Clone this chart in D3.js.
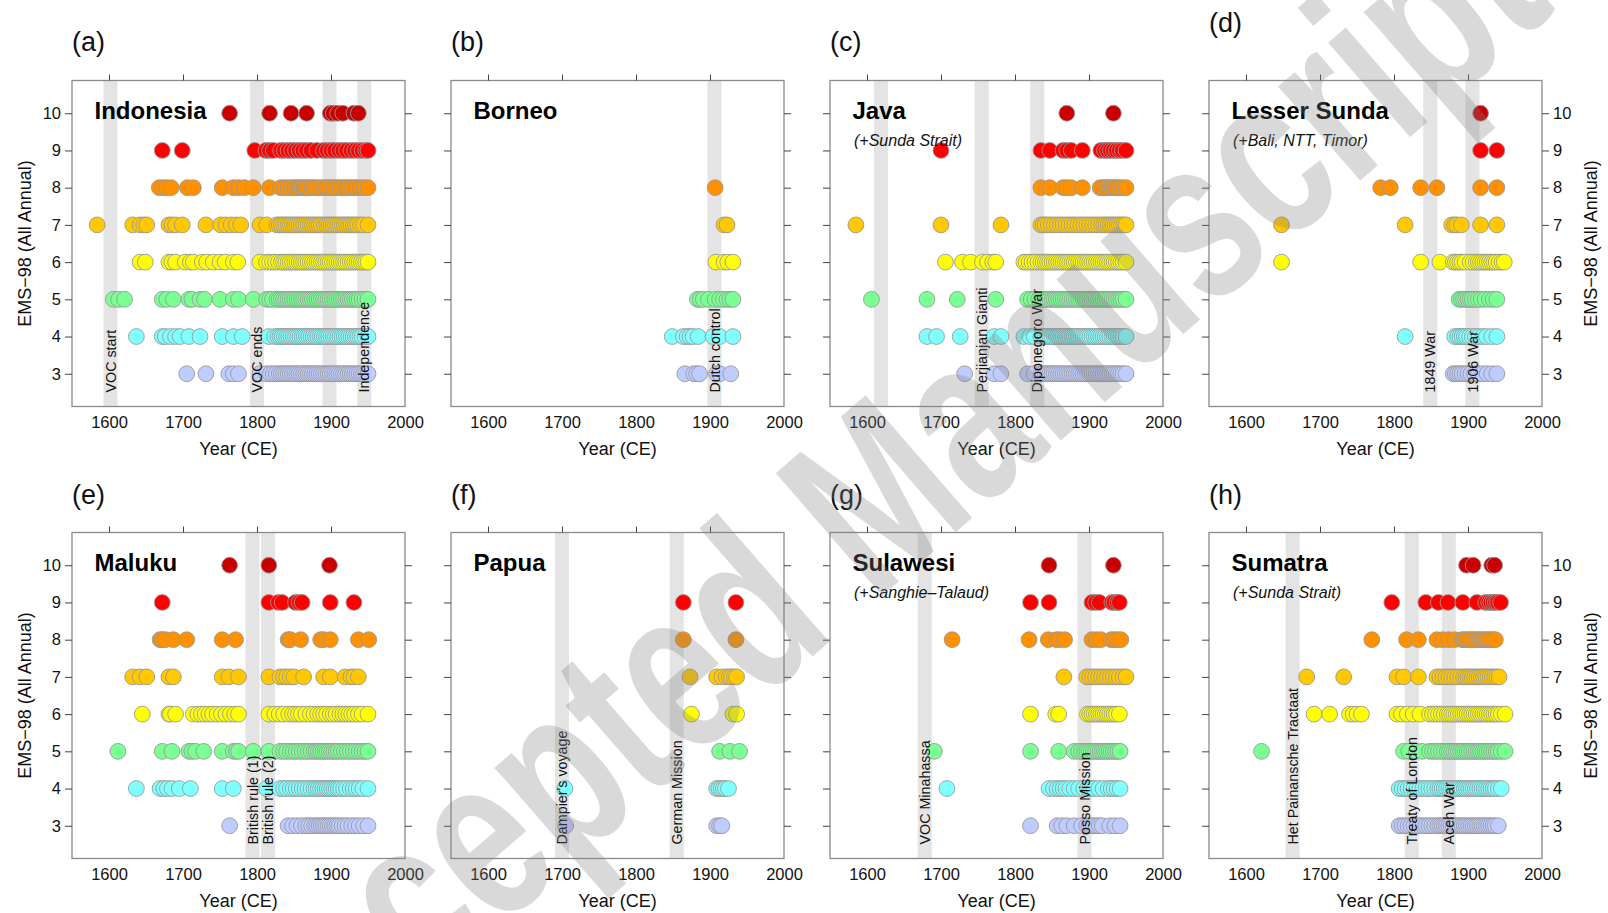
<!DOCTYPE html>
<html>
<head>
<meta charset="utf-8">
<script src="https://cdn.jsdelivr.net/npm/d3@7"></script>
<style>
  body { margin: 0; background: #fff; }
  text { font-family: "Liberation Sans", Arial, Helvetica, sans-serif; }
</style>
</head>
<body>
<svg id="chart" width="1608" height="913"></svg>
<script>
// EMS-98 intensity levels and their colours
const levels = [3, 4, 5, 6, 7, 8, 9, 10];
const levelColors = ['#bfccff', '#80ffff', '#7aff93', '#ffff00', '#ffc800', '#ff9100', '#ff0000', '#c80000'];
const yearTicks = [1600, 1700, 1800, 1900, 2000];

const panelLetters = ['(a)', '(b)', '(c)', '(d)', '(e)', '(f)', '(g)', '(h)'];
const regionNames = ['Indonesia', 'Borneo', 'Java', 'Lesser Sunda', 'Maluku', 'Papua', 'Sulawesi', 'Sumatra'];
const regionNotes = ['', '', '(+Sunda Strait)', '(+Bali, NTT, Timor)', '', '', '(+Sanghie\u2013Talaud)', '(+Sunda Strait)'];

// years with reports at each intensity, per region: [level, years]
const indonesia = [
  [3, [1705, 1731, 1762, 1768, 1775, 1804, 1813, 1818, 1822, 1826, 1830, 1833, 1836, 1839, 1842, 1845, 1848, 1851, 1854, 1857, 1860, 1863, 1866, 1869, 1872, 1875, 1878, 1881, 1884, 1887, 1890, 1893, 1896, 1899, 1902, 1905, 1908, 1911, 1914, 1917, 1920, 1923, 1926, 1929, 1932, 1935, 1938, 1941, 1944, 1947, 1950]],
  [4, [1637, 1672, 1676, 1683, 1690, 1696, 1708, 1723, 1753, 1768, 1780, 1816, 1824, 1828, 1831, 1834, 1837, 1840, 1843, 1846, 1849, 1852, 1855, 1858, 1861, 1864, 1867, 1870, 1873, 1876, 1879, 1882, 1885, 1888, 1891, 1894, 1897, 1900, 1903, 1906, 1909, 1912, 1915, 1918, 1921, 1924, 1927, 1930, 1933, 1936, 1939, 1942, 1946, 1950]],
  [5, [1606, 1613, 1621, 1672, 1678, 1687, 1708, 1712, 1723, 1729, 1750, 1768, 1775, 1795, 1813, 1817, 1821, 1827, 1830, 1833, 1836, 1839, 1842, 1845, 1848, 1851, 1854, 1857, 1860, 1863, 1866, 1869, 1872, 1875, 1878, 1881, 1884, 1887, 1890, 1893, 1896, 1899, 1902, 1905, 1908, 1911, 1914, 1917, 1920, 1923, 1926, 1929, 1932, 1935, 1938, 1942, 1946, 1950]],
  [6, [1642, 1649, 1681, 1685, 1690, 1703, 1710, 1714, 1726, 1732, 1741, 1750, 1757, 1768, 1774, 1804, 1813, 1817, 1821, 1825, 1829, 1833, 1836, 1839, 1842, 1845, 1848, 1851, 1854, 1857, 1860, 1863, 1866, 1869, 1872, 1875, 1878, 1881, 1884, 1887, 1890, 1893, 1896, 1899, 1902, 1905, 1908, 1911, 1914, 1917, 1920, 1923, 1926, 1929, 1932, 1935, 1938, 1941, 1944, 1947, 1950]],
  [7, [1584, 1632, 1642, 1647, 1651, 1681, 1685, 1690, 1699, 1731, 1751, 1758, 1765, 1772, 1778, 1804, 1813, 1827, 1830, 1833, 1836, 1839, 1842, 1845, 1848, 1851, 1854, 1857, 1860, 1863, 1866, 1869, 1872, 1875, 1878, 1881, 1884, 1887, 1891, 1894, 1897, 1900, 1903, 1906, 1909, 1912, 1915, 1918, 1921, 1924, 1927, 1930, 1933, 1936, 1940, 1944, 1950]],
  [8, [1668, 1673, 1678, 1684, 1706, 1714, 1753, 1768, 1775, 1783, 1795, 1817, 1832, 1837, 1842, 1847, 1851, 1855, 1858, 1861, 1864, 1867, 1870, 1874, 1877, 1881, 1886, 1890, 1894, 1897, 1900, 1904, 1908, 1912, 1916, 1920, 1924, 1928, 1932, 1935, 1940, 1945, 1950]],
  [9, [1672, 1699, 1797, 1812, 1817, 1822, 1832, 1837, 1842, 1847, 1852, 1857, 1862, 1867, 1873, 1881, 1890, 1895, 1900, 1905, 1911, 1916, 1921, 1927, 1932, 1937, 1942, 1947, 1950]],
  [10, [1763, 1817, 1846, 1867, 1899, 1903, 1909, 1916, 1931, 1937]]
];
const borneo = [
  [3, [1866, 1878, 1882, 1886, 1909, 1913, 1928]],
  [4, [1849, 1864, 1869, 1873, 1877, 1884, 1904, 1913, 1931]],
  [5, [1883, 1887, 1891, 1898, 1907, 1913, 1918, 1923, 1927, 1931]],
  [6, [1908, 1919, 1924, 1931]],
  [7, [1919, 1923]],
  [8, [1907]]
];
const java = [
  [3, [1732, 1772, 1781, 1817, 1826, 1835, 1838, 1841, 1844, 1847, 1850, 1853, 1856, 1859, 1862, 1865, 1868, 1871, 1874, 1877, 1880, 1883, 1886, 1889, 1892, 1895, 1898, 1901, 1904, 1907, 1910, 1913, 1916, 1919, 1922, 1925, 1928, 1931, 1934, 1937, 1940, 1943, 1946, 1950]],
  [4, [1681, 1694, 1726, 1772, 1781, 1812, 1820, 1826, 1835, 1838, 1841, 1844, 1847, 1850, 1853, 1856, 1859, 1862, 1865, 1868, 1871, 1874, 1877, 1880, 1883, 1886, 1889, 1892, 1895, 1898, 1901, 1904, 1907, 1910, 1913, 1916, 1919, 1922, 1925, 1928, 1931, 1934, 1937, 1940, 1943, 1946, 1950]],
  [5, [1606, 1681, 1722, 1774, 1817, 1822, 1827, 1832, 1835, 1838, 1841, 1844, 1847, 1850, 1853, 1856, 1859, 1862, 1865, 1868, 1871, 1874, 1877, 1880, 1883, 1886, 1889, 1892, 1895, 1898, 1901, 1904, 1907, 1910, 1913, 1916, 1919, 1922, 1925, 1928, 1931, 1934, 1937, 1940, 1943, 1946, 1950]],
  [6, [1706, 1729, 1740, 1756, 1763, 1770, 1774, 1812, 1815, 1819, 1823, 1827, 1831, 1835, 1838, 1841, 1844, 1847, 1850, 1853, 1856, 1859, 1862, 1865, 1868, 1871, 1874, 1877, 1880, 1883, 1886, 1889, 1892, 1895, 1898, 1901, 1904, 1907, 1910, 1913, 1916, 1919, 1922, 1925, 1928, 1931, 1934, 1937, 1940, 1943, 1946, 1950]],
  [7, [1585, 1700, 1781, 1835, 1838, 1841, 1845, 1849, 1853, 1857, 1861, 1865, 1869, 1873, 1877, 1881, 1885, 1889, 1893, 1897, 1901, 1905, 1909, 1913, 1917, 1920, 1923, 1926, 1929, 1932, 1935, 1938, 1941, 1944, 1947, 1950]],
  [8, [1835, 1847, 1865, 1870, 1876, 1891, 1915, 1919, 1922, 1925, 1928, 1931, 1934, 1937, 1941, 1945, 1950]],
  [9, [1700, 1835, 1847, 1865, 1870, 1876, 1891, 1916, 1921, 1925, 1929, 1933, 1937, 1941, 1945, 1950]],
  [10, [1870, 1933]]
];
const lesserSunda = [
  [3, [1880, 1883, 1886, 1889, 1892, 1896, 1900, 1904, 1909, 1914, 1920, 1926, 1932, 1939]],
  [4, [1815, 1882, 1886, 1889, 1892, 1895, 1898, 1902, 1906, 1910, 1915, 1920, 1925, 1932, 1939]],
  [5, [1888, 1891, 1894, 1897, 1900, 1903, 1906, 1910, 1914, 1918, 1923, 1929, 1934, 1939]],
  [6, [1648, 1836, 1862, 1880, 1883, 1886, 1889, 1892, 1896, 1903, 1907, 1911, 1914, 1917, 1920, 1923, 1926, 1929, 1932, 1935, 1938, 1942, 1946, 1949]],
  [7, [1648, 1815, 1878, 1882, 1885, 1891, 1917, 1939]],
  [8, [1782, 1795, 1836, 1858, 1917, 1939]],
  [9, [1917, 1939]],
  [10, [1917]]
];
const maluku = [
  [3, [1763, 1842, 1848, 1854, 1860, 1866, 1870, 1874, 1878, 1881, 1884, 1887, 1890, 1893, 1896, 1899, 1902, 1905, 1908, 1911, 1915, 1919, 1923, 1928, 1933, 1938, 1944, 1950]],
  [4, [1637, 1669, 1674, 1679, 1685, 1695, 1710, 1753, 1768, 1813, 1831, 1836, 1840, 1845, 1849, 1853, 1857, 1861, 1865, 1869, 1873, 1877, 1880, 1883, 1886, 1889, 1892, 1895, 1898, 1901, 1904, 1907, 1910, 1913, 1917, 1921, 1926, 1930, 1934, 1938, 1943, 1950]],
  [5, [1612, 1672, 1685, 1708, 1712, 1717, 1728, 1753, 1768, 1772, 1775, 1795, 1816, 1831, 1836, 1840, 1845, 1849, 1853, 1857, 1861, 1865, 1869, 1873, 1877, 1880, 1883, 1886, 1889, 1892, 1895, 1898, 1901, 1904, 1907, 1910, 1914, 1918, 1922, 1926, 1930, 1934, 1938, 1942, 1946, 1950]],
  [6, [1645, 1681, 1683, 1690, 1714, 1720, 1725, 1730, 1735, 1740, 1746, 1752, 1758, 1764, 1770, 1775, 1816, 1824, 1830, 1836, 1843, 1848, 1852, 1856, 1860, 1866, 1872, 1877, 1882, 1886, 1890, 1894, 1899, 1903, 1907, 1912, 1916, 1920, 1924, 1928, 1932, 1937, 1942, 1950]],
  [7, [1632, 1642, 1651, 1681, 1687, 1753, 1762, 1775, 1816, 1831, 1836, 1840, 1845, 1850, 1863, 1890, 1899, 1919, 1927, 1931, 1937]],
  [8, [1669, 1672, 1676, 1687, 1705, 1753, 1771, 1842, 1845, 1859, 1886, 1890, 1899, 1937, 1951]],
  [9, [1672, 1816, 1829, 1834, 1852, 1857, 1861, 1899, 1931]],
  [10, [1763, 1816, 1898]]
];
const papua = [
  [3, [1705, 1909, 1913, 1916]],
  [4, [1704, 1909, 1912, 1915, 1918, 1921, 1925]],
  [5, [1913, 1927, 1940]],
  [6, [1875, 1931, 1936]],
  [7, [1873, 1909, 1916, 1922, 1926, 1929, 1933, 1936]],
  [8, [1864, 1935]],
  [9, [1864, 1935]]
];
const sulawesi = [
  [3, [1821, 1857, 1863, 1870, 1880, 1890, 1897, 1900, 1903, 1906, 1910, 1914, 1918, 1928, 1935, 1942]],
  [4, [1708, 1846, 1852, 1857, 1861, 1865, 1869, 1874, 1880, 1886, 1893, 1898, 1901, 1904, 1907, 1913, 1919, 1926, 1930, 1934, 1938, 1942]],
  [5, [1691, 1821, 1859, 1880, 1886, 1890, 1894, 1897, 1900, 1903, 1906, 1909, 1912, 1915, 1918, 1921, 1924, 1927, 1930, 1933, 1936, 1939, 1942]],
  [6, [1821, 1855, 1859, 1898, 1901, 1904, 1907, 1910, 1913, 1916, 1919, 1922, 1925, 1928, 1931, 1934, 1937, 1941]],
  [7, [1866, 1897, 1901, 1905, 1909, 1913, 1917, 1921, 1925, 1929, 1933, 1937, 1941, 1946, 1950]],
  [8, [1715, 1819, 1845, 1856, 1860, 1867, 1904, 1910, 1916, 1930, 1934, 1938, 1943]],
  [9, [1821, 1846, 1904, 1909, 1914, 1931, 1934, 1938, 1941]],
  [10, [1846, 1933]]
];
const sumatra = [
  [3, [1807, 1811, 1815, 1819, 1823, 1827, 1831, 1835, 1839, 1843, 1847, 1851, 1855, 1859, 1862, 1865, 1868, 1871, 1874, 1877, 1880, 1883, 1886, 1889, 1892, 1895, 1898, 1901, 1904, 1907, 1910, 1913, 1916, 1919, 1922, 1925, 1928, 1931, 1934, 1937, 1941]],
  [4, [1807, 1811, 1815, 1819, 1823, 1827, 1831, 1835, 1839, 1843, 1847, 1851, 1855, 1859, 1862, 1865, 1868, 1871, 1874, 1877, 1880, 1883, 1886, 1889, 1892, 1895, 1898, 1901, 1904, 1907, 1910, 1913, 1916, 1919, 1922, 1925, 1928, 1931, 1934, 1937, 1941, 1945]],
  [5, [1621, 1813, 1820, 1830, 1838, 1848, 1852, 1856, 1860, 1864, 1868, 1872, 1875, 1878, 1881, 1884, 1887, 1890, 1893, 1896, 1899, 1902, 1905, 1908, 1911, 1914, 1917, 1920, 1923, 1926, 1929, 1932, 1935, 1938, 1941, 1945, 1950]],
  [6, [1692, 1713, 1740, 1745, 1750, 1756, 1804, 1810, 1818, 1826, 1835, 1848, 1852, 1856, 1860, 1864, 1868, 1872, 1875, 1878, 1881, 1884, 1887, 1890, 1893, 1896, 1899, 1902, 1905, 1908, 1911, 1914, 1917, 1920, 1923, 1926, 1929, 1932, 1935, 1938, 1941, 1945, 1950]],
  [7, [1682, 1732, 1804, 1813, 1833, 1858, 1862, 1866, 1870, 1874, 1878, 1882, 1886, 1890, 1894, 1897, 1900, 1903, 1906, 1909, 1912, 1915, 1918, 1921, 1924, 1927, 1930, 1933, 1936, 1939, 1942]],
  [8, [1770, 1817, 1833, 1858, 1866, 1874, 1882, 1892, 1895, 1898, 1901, 1904, 1907, 1910, 1913, 1916, 1919, 1922, 1925, 1928, 1931, 1934, 1937]],
  [9, [1797, 1843, 1860, 1873, 1893, 1912, 1924, 1928, 1931, 1934, 1937, 1940, 1944]],
  [10, [1898, 1907, 1932, 1936]]
];
const regionData = [indonesia, borneo, java, lesserSunda, maluku, papua, sulawesi, sumatra];

// historical events marked as grey bands: [year, label]
const regionEvents = [
  [[1602, 'VOC start'], [1800, 'VOC ends'], [1898, ''], [1945, 'Independence']],
  [[1906, 'Dutch control']],
  [[1619, ''], [1755, 'Perjianjan Gianti'], [1830, 'Diponegoro War']],
  [[1849, '1849 War'], [1906, '1906 War']],
  [[1794, 'British rule (1)'], [1815, 'British rule (2)']],
  [[1700, "Dampier's voyage"], [1855, 'German Mission']],
  [[1678, 'VOC Minahassa'], [1894, 'Posso Mission']],
  [[1663, 'Het Painansche Tractaat'], [1824, 'Treaty of London'], [1874, 'Aceh War']]
];

// layout
const colLeft = [72, 451, 830, 1209];
const rowTop = [80.5, 532.5];
const pw = 333, ph = 326;
const bandHalf = 9.5;

const svg = d3.select('#chart');
svg.append('rect').attr('width', 1608).attr('height', 913).attr('fill', '#fff');

const x = d3.scaleLinear().domain([1550, 2000]).range([0, pw]);
const y = d3.scaleLinear().domain([2.12, 10.88]).range([ph, 0]);
const color = d3.scaleOrdinal().domain(levels).range(levelColors);

regionNames.forEach(function(name, i) {
  const col = i % 4, row = Math.floor(i / 4);
  const g = svg.append('g').attr('transform', 'translate(' + colLeft[col] + ',' + rowTop[row] + ')');

  // panel letter, (d) sits higher than the rest
  g.append('text')
    .attr('x', 0).attr('y', i === 3 ? -48.5 : (row === 0 ? -30 : -28.5))
    .attr('font-size', 27).attr('fill', '#111')
    .text(panelLetters[i]);

  // event bands
  const ev = regionEvents[i];
  g.selectAll('rect.band').data(ev).enter().append('rect')
    .attr('class', 'band')
    .attr('x', function(d) { return x(d[0] - bandHalf); })
    .attr('width', function(d) { return x(d[0] + bandHalf) - x(d[0] - bandHalf); })
    .attr('y', 0).attr('height', ph)
    .attr('fill', '#e4e4e4');

  // points
  const pts = [];
  regionData[i].forEach(function(r) { r[1].forEach(function(yr) { pts.push({ lev: r[0], yr: yr }); }); });
  g.selectAll('circle').data(pts).enter().append('circle')
    .attr('cx', function(d) { return x(d.yr); })
    .attr('cy', function(d) { return y(d.lev); })
    .attr('r', 7.9)
    .attr('fill', function(d) { return color(d.lev); })
    .attr('stroke', '#999')
    .attr('stroke-width', 0.9);

  // event labels, read bottom to top
  g.selectAll('text.ev').data(ev.filter(function(d) { return d[1] !== ''; })).enter().append('text')
    .attr('class', 'ev')
    .attr('transform', function(d) { return 'translate(' + x(d[0]) + ',' + (ph - 14) + ') rotate(-90)'; })
    .attr('dy', '0.36em')
    .attr('font-size', 14.3).attr('fill', '#111')
    .text(function(d) { return d[1]; });

  // region name and note
  g.append('text').attr('x', 22.5).attr('y', 38.5)
    .attr('font-size', 24).attr('font-weight', 'bold').attr('fill', '#000')
    .text(name);
  if (regionNotes[i]) {
    g.append('text').attr('x', 24).attr('y', 65.5)
      .attr('font-size', 16).attr('font-style', 'italic').attr('fill', '#111')
      .text(regionNotes[i]);
  }

  // frame
  g.append('rect').attr('width', pw).attr('height', ph)
    .attr('fill', 'none').attr('stroke', '#8a8a8a').attr('stroke-width', 1.3);

  // axes
  const fmt = d3.format('d');
  const top = g.append('g').call(d3.axisTop(x).tickValues([1600, 1700, 1800, 1900]).tickSize(6).tickFormat(''));
  const bottom = g.append('g').attr('transform', 'translate(0,' + ph + ')')
    .call(d3.axisBottom(x).tickValues(yearTicks).tickSize(0).tickPadding(9.5).tickFormat(fmt));
  const left = g.append('g')
    .call(d3.axisLeft(y).tickValues(levels).tickSize(7).tickPadding(4).tickFormat(col === 0 ? fmt : ''));
  const right = g.append('g').attr('transform', 'translate(' + pw + ',0)')
    .call(d3.axisRight(y).tickValues(levels).tickSize(7).tickPadding(4).tickFormat(col === 3 ? fmt : ''));
  [top, bottom, left, right].forEach(function(a) {
    a.select('.domain').remove();
    a.selectAll('line').attr('stroke', '#444').attr('stroke-width', 1);
    a.selectAll('text').attr('font-size', 16.5).attr('fill', '#111').style('font-family', '"Liberation Sans", Arial, sans-serif');
  });

  g.append('text').attr('x', pw / 2).attr('y', ph + 48)
    .attr('text-anchor', 'middle').attr('font-size', 18).attr('fill', '#111')
    .text('Year (CE)');

  if (col === 0 || col === 3) {
    const tx = col === 0 ? -47 : pw + 49;
    g.append('text')
      .attr('transform', 'translate(' + tx + ',' + (ph / 2) + ') rotate(-90)')
      .attr('text-anchor', 'middle').attr('dy', '0.35em')
      .attr('font-size', 18).attr('fill', '#111')
      .text('EMS\u221298 (All Annual)');
  }
});

// watermark laid over the figure (tall, narrow lettering)
svg.append('text')
  .attr('transform', 'translate(869,526) rotate(-41) scale(0.72,1)')
  .attr('text-anchor', 'middle').attr('dy', '0.26em')
  .attr('font-size', 236).attr('font-weight', 'bold')
  .attr('fill', '#808080').attr('fill-opacity', 0.3)
  .text('Accepted Manuscript');
</script>
</body>
</html>
